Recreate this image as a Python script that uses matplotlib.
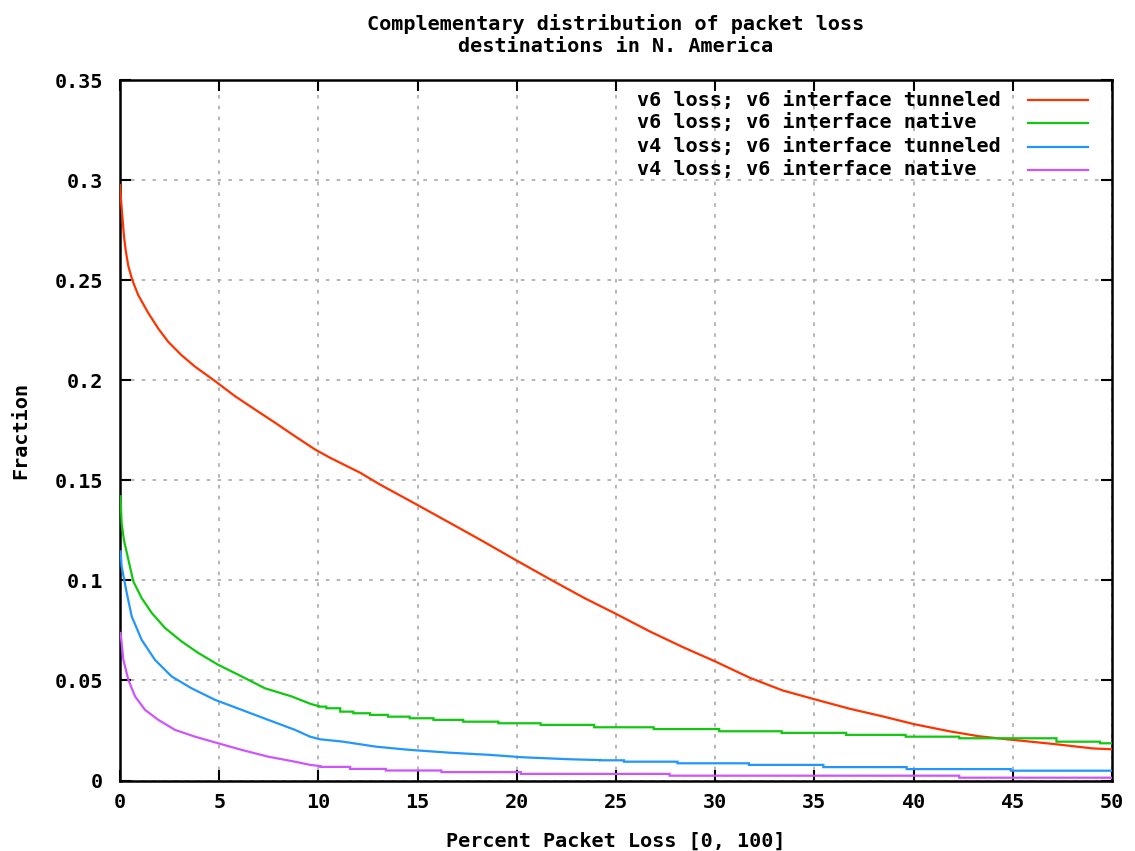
import numpy as np
import matplotlib
matplotlib.use("Agg")
import matplotlib.pyplot as plt

# ---------------- data ----------------
title = "Complementary distribution of packet loss\ndestinations in N. America"
xlabel = "Percent Packet Loss [0, 100]"
ylabel = "Fraction"
x_ticks = [0, 5, 10, 15, 20, 25, 30, 35, 40, 45, 50]
y_ticks = [0, 0.05, 0.1, 0.15, 0.2, 0.25, 0.3, 0.35]
y_tick_labels = ["0", "0.05", "0.1", "0.15", "0.2", "0.25", "0.3", "0.35"]

labels = ["v6 loss; v6 interface tunneled",
          "v6 loss; v6 interface native",
          "v4 loss; v6 interface tunneled",
          "v4 loss; v6 interface native"]
colors = ["#ff3300", "#10c810", "#2196ff", "#cc55ff"]

# v6 loss, tunneled (smooth curve)
red_x = [0, 0.05, 0.12, 0.2, 0.29, 0.42, 0.62, 0.92, 1.43, 1.93, 2.43, 3.1, 3.78,
         4.8, 5.8, 6.8, 7.81, 8.82, 9.83, 10.58, 12.1, 13.1, 14.95, 16.63, 18.3,
         19.9, 21.7, 23.4, 24.95, 26.7, 28.4, 30.0, 31.75, 33.4, 35.0, 36.8, 38.5,
         40.0, 41.8, 43.3, 45.0, 47.0, 49.06, 50]
red_y = [0.2975, 0.29, 0.2815, 0.272, 0.2647, 0.257, 0.25, 0.2425, 0.2335, 0.2258,
         0.2192, 0.2125, 0.2068, 0.1995, 0.192, 0.1854, 0.1788, 0.172, 0.1654, 0.1613,
         0.1538, 0.1479, 0.1379, 0.1287, 0.1195, 0.1104, 0.1004, 0.0912, 0.0835,
         0.0745, 0.0665, 0.0595, 0.0513, 0.0450, 0.0406, 0.0358, 0.0319, 0.0282,
         0.0246, 0.0221, 0.0203, 0.0183, 0.0160, 0.0156]

# v6 loss, native: curved head, then stepped tail (edges, levels)
green_head_x = [0, 0.03, 0.08, 0.2, 0.42, 0.67, 1.09, 1.6, 2.27, 3.1, 3.95, 4.95,
                6.13, 7.3, 8.65, 9.6, 10.0]
green_head_y = [0.142, 0.142, 0.1287, 0.12, 0.1104, 0.0995, 0.0912, 0.0837, 0.0762,
                0.0695, 0.0637, 0.0578, 0.052, 0.0461, 0.042, 0.0383, 0.0372]
green_step_x = [10.0, 10.4, 11.1, 11.76, 12.6, 13.5, 14.6, 15.8, 17.3, 19.07, 21.2,
                23.9, 26.9, 30.2, 33.35, 36.6, 39.6, 42.3, 47.2, 49.4, 50]
green_step_y = [0.0369, 0.0361, 0.0344, 0.0336, 0.0328, 0.0319, 0.0311, 0.0303,
                0.0294, 0.0286, 0.0278, 0.0266, 0.0257, 0.0246, 0.0238, 0.0228,
                0.0219, 0.0211, 0.0194, 0.0186]

# v4 loss, tunneled
blue_head_x = [0, 0.03, 0.08, 0.34, 0.59, 1.09, 1.76, 2.6, 3.6, 4.79, 6.13, 7.47,
               8.82, 9.58, 10.08, 11.25, 12.9, 14.6, 16.6, 18.65, 20.3, 22.7, 24.2]
blue_head_y = [0.1145, 0.1145, 0.107, 0.0937, 0.082, 0.0703, 0.0603, 0.052, 0.0461,
               0.0403, 0.0353, 0.0303, 0.0253, 0.0219, 0.0206, 0.0194, 0.0169,
               0.0153, 0.0139, 0.0128, 0.0116, 0.0106, 0.0102]
blue_step_x = [24.2, 25.4, 28.1, 31.7, 35.45, 39.65, 44.9, 50]
blue_step_y = [0.0101, 0.0094, 0.0086, 0.0078, 0.0067, 0.0057, 0.0049]

# v4 loss, native
purple_head_x = [0, 0.03, 0.17, 0.42, 0.76, 1.26, 1.93, 2.77, 3.78, 4.95, 6.13,
                 7.47, 8.82, 9.58, 10.1]
purple_head_y = [0.0737, 0.0737, 0.0603, 0.0503, 0.042, 0.0353, 0.0303, 0.0253,
                 0.0219, 0.0186, 0.0153, 0.0119, 0.0094, 0.0078, 0.0072]
purple_step_x = [10.1, 11.6, 13.4, 16.2, 20.2, 27.7, 42.3, 50]
purple_step_y = [0.0068, 0.0058, 0.005, 0.0042, 0.0033, 0.0024, 0.0014]


def join(head_x, head_y, step_x, step_y):
    xs, ys = list(head_x), list(head_y)
    for i, lvl in enumerate(step_y):
        xs += [step_x[i], step_x[i + 1]]
        ys += [lvl, lvl]
    return xs, ys


series = [
    (red_x, red_y),
    join(green_head_x, green_head_y, green_step_x, green_step_y),
    join(blue_head_x, blue_head_y, blue_step_x, blue_step_y),
    join(purple_head_x, purple_head_y, purple_step_x, purple_step_y),
]

# ---------------- figure ----------------
FONT = {"family": "DejaVu Sans Mono", "weight": "bold", "size": 14.5}
plt.rcParams["font.family"] = "DejaVu Sans Mono"
plt.rcParams["font.weight"] = "bold"

fig = plt.figure(figsize=(11.35, 8.51), dpi=100)
ax = fig.add_axes([120 / 1135, 1 - 780.5 / 851, 992 / 1135, 700.5 / 851])

for (xs, ys), c in zip(series, colors):
    ax.plot(xs, ys, color=c, lw=1.6, solid_joinstyle="miter", zorder=3)

ax.set_xlim(0, 50)
ax.set_ylim(0, 0.35)
ax.set_xticks(x_ticks)
ax.set_xticklabels([str(t) for t in x_ticks], fontdict=FONT)
ax.set_yticks(y_ticks)
ax.set_yticklabels(y_tick_labels, fontdict=FONT)
ax.tick_params(axis="both", direction="in", length=8, width=1.5,
               top=True, right=True, colors="black")
ax.tick_params(axis="x", pad=9)
ax.tick_params(axis="y", pad=12)

ax.grid(True, color="#b0b0b0", linestyle=(0, (2, 4)), linewidth=1.3, zorder=1)
for s in ax.spines.values():
    s.set_linewidth(1.8)
    s.set_color("black")

ax.set_xlabel(xlabel, fontdict=FONT, labelpad=14)
ax.set_ylabel(ylabel, fontdict=FONT, labelpad=18)
ax.set_title(title, fontdict=FONT, pad=20, linespacing=1.2)

# key (gnuplot style: text, then line sample)
row_y = [0.9714, 0.939, 0.905, 0.872]
for lab, c, ry in zip(labels, colors, row_y):
    ax.text(0.521, ry, lab, transform=ax.transAxes, ha="left", va="center",
            fontdict=FONT, zorder=5)
    ax.plot([0.915, 0.976], [ry, ry], transform=ax.transAxes, color=c, lw=1.6,
            zorder=5, clip_on=False)

fig.savefig("out.png", dpi=100, facecolor="white")
